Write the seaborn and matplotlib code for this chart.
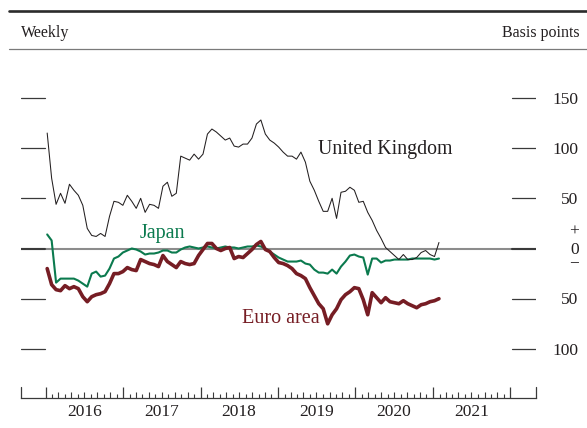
import pandas as pd
import matplotlib
matplotlib.use("Agg")
import matplotlib.pyplot as plt
import matplotlib.transforms as mtransforms
from matplotlib.lines import Line2D
import seaborn as sns

# Weekly observations, sampled every third week (basis points)
dates = pd.date_range("2016-01-08", "2021-01-29", freq="21D")

uk = [115, 70, 44, 55, 45, 64, 58, 53, 43, 20,
      13, 12, 15, 12, 32, 47, 46, 43, 53, 47,
      40, 50, 36, 44, 43, 40, 62, 66, 52, 55,
      92, 90, 88, 94, 89, 94, 114, 119, 116, 112,
      108, 110, 102, 101, 104, 104, 110, 124, 128, 114,
      108, 105, 101, 96, 92, 92, 89, 96, 86, 67,
      58, 47, 37, 37, 50, 30, 56, 57, 61, 58,
      46, 47, 36, 28, 18, 10, 1, -3, -7, -11,
      -6, -11, -11, -9, -4, -2, -6, -8, 6]

japan = [14, 8, -34, -30, -30, -30, -30, -32, -35, -38,
         -25, -23, -28, -27, -20, -10, -8, -4, -2, 0,
         -1, -3, -6, -5, -5, -4, -2, -2, -4, -4,
         -1, 1, 2, 1, 0, 1, 2, 1, 0, 1,
         2, 1, 1, 0, 1, 2, 2, 3, 2, 0,
         -3, -6, -9, -11, -13, -13, -13, -12, -15, -16,
         -21, -24, -24, -25, -21, -25, -18, -13, -7, -6,
         -8, -9, -26, -10, -10, -14, -12, -12, -11, -11,
         -11, -11, -10, -10, -10, -10, -10, -11, -10]

euro = [-20, -36, -41, -42, -37, -40, -38, -40, -48, -53,
        -48, -46, -45, -43, -35, -25, -25, -23, -19, -21,
        -22, -11, -13, -15, -16, -18, -7, -13, -16, -19,
        -13, -15, -16, -15, -7, -1, 5, 5, 0, -2,
        0, 1, -10, -8, -9, -5, -1, 4, 7, -1,
        -3, -9, -14, -15, -17, -20, -25, -27, -30, -39,
        -47, -55, -60, -75, -66, -60, -51, -46, -43, -39,
        -40, -51, -66, -44, -49, -54, -49, -53, -54, -55,
        -52, -55, -57, -59, -56, -55, -53, -52, -50]

series_names = ["Japan", "Euro area", "United Kingdom"]
colors = {"United Kingdom": "#231f20", "Japan": "#0b7a4e", "Euro area": "#761d24"}
widths = {"United Kingdom": 0.75, "Japan": 1.5, "Euro area": 2.6}

year_labels = ["2016", "2017", "2018", "2019", "2020", "2021"]
y_ticks = [150, 100, 50, 0, -50, -100]

df = pd.concat([
    pd.DataFrame({"date": dates, "bp": uk, "series": "United Kingdom"}),
    pd.DataFrame({"date": dates, "bp": japan, "series": "Japan"}),
    pd.DataFrame({"date": dates, "bp": euro, "series": "Euro area"}),
])

sns.set_theme(style="white")
plt.rcParams["font.family"] = ["Liberation Serif", "DejaVu Serif"]
ink = "#231f20"

W, H = 587, 428
fig = plt.figure(figsize=(W / 100, H / 100), dpi=100)
ax_l, ax_r, ax_t, ax_b = 20.6, 535.5, 60.0, 398.0
ax = fig.add_axes([ax_l / W, 1 - ax_b / H, (ax_r - ax_l) / W, (ax_b - ax_t) / H])
ax_w_px, ax_h_px = ax_r - ax_l, ax_b - ax_t

# zero reference line under the data
ax.axhline(0, color="#8c8c8c", lw=1.5, zorder=1)

sns.lineplot(data=df, x="date", y="bp", hue="series", size="series",
             hue_order=series_names, size_order=series_names,
             palette=colors, sizes=widths, legend=False, ax=ax, zorder=3)

ax.set_ylim((248.5 - ax_b) / 1.004, (248.5 - ax_t) / 1.004)
pad_days = pd.Timedelta(days=118.4)
ax.set_xlim(pd.Timestamp("2016-01-01") - pad_days, pd.Timestamp("2022-01-01") + pad_days)

for s in ["top", "left", "right"]:
    ax.spines[s].set_visible(False)
ax.spines["bottom"].set_color("#3a3a3a")
ax.spines["bottom"].set_linewidth(0.9)
ax.set_xlabel("")
ax.set_ylabel("")
ax.set_yticks([])
ax.grid(False)

# year labels centred in each year
ax.set_xticks([pd.Timestamp(f"{y}-07-01") for y in year_labels])
ax.set_xticklabels(year_labels, fontsize=12.5, color=ink)
ax.tick_params(axis="x", length=0, pad=4.5)

# tick marks: year boundaries, alternating month ticks, end ticks
xtrans = ax.get_xaxis_transform()
years = [pd.Timestamp(f"{y}-01-01") for y in range(2016, 2023)]
ax.vlines(years, 0, 11 / ax_h_px, transform=xtrans, color="#3a3a3a", lw=0.9, clip_on=False)
tall = [pd.Timestamp(f"{y}-{m:02d}-01") for y in range(2016, 2022) for m in range(3, 13, 2)]
short = [pd.Timestamp(f"{y}-{m:02d}-01") for y in range(2016, 2022) for m in range(2, 13, 2)]
ax.vlines(tall, 0, 6 / ax_h_px, transform=xtrans, color="#3a3a3a", lw=0.8, clip_on=False)
ax.vlines(short, 0, 4 / ax_h_px, transform=xtrans, color="#3a3a3a", lw=0.8, clip_on=False)
for xa in (0.0, 1.0):
    ax.add_line(Line2D([xa, xa], [0, 11 / ax_h_px], transform=ax.transAxes,
                       color="#3a3a3a", lw=0.9, clip_on=False))

# value dashes on both sides
left_end = (44.5 - ax_l) / ax_w_px
right_start = (511.7 - ax_l) / ax_w_px
for v in y_ticks:
    lw = 1.5 if v == 0 else 0.9
    ax.axhline(v, xmin=0.001, xmax=left_end, color="#3a3a3a", lw=lw, zorder=2)
    ax.axhline(v, xmin=right_start, xmax=1.0, color="#3a3a3a", lw=lw, zorder=2)

# right-hand value labels
ytrans = mtransforms.blended_transform_factory(fig.transFigure, ax.transData)
for v in y_ticks:
    if v == 0:
        continue
    ax.text(578.3 / W, v - 5.7, str(abs(v)), ha="right", va="baseline",
            transform=ytrans, fontsize=12.5, color=ink)
ax.text(574.5 / W, 13.0, "+", ha="center", va="baseline", transform=ytrans,
        fontsize=12.5, color=ink)
ax.text(574.5 / W, 6.2, "0\n\u2212", ha="center", va="top", multialignment="center",
        linespacing=0.706, transform=ytrans, fontsize=12.5, color=ink)

# series labels
ax.text(pd.Timestamp("2019-07-09"), 94.6, "United Kingdom", color=colors["United Kingdom"],
        fontsize=14.3, ha="left", va="baseline")
ax.text(pd.Timestamp("2017-03-21"), 10.2, "Japan", color=colors["Japan"],
        fontsize=14.5, ha="left", va="baseline")
ax.text(pd.Timestamp("2018-07-13"), -74.7, "Euro area", color=colors["Euro area"],
        fontsize=14.5, ha="left", va="baseline")

# header rules and captions
fig.add_artist(Line2D([9 / W, 1], [1 - 10.5 / H, 1 - 10.5 / H], transform=fig.transFigure,
                      color="#2b2b2b", lw=1.9))
fig.add_artist(Line2D([9 / W, 1], [1 - 49 / H, 1 - 49 / H], transform=fig.transFigure,
                      color="#7a7a7a", lw=0.9))
fig.text(21 / W, 1 - 37 / H, "Weekly", ha="left", va="baseline", fontsize=11.5, color=ink)
fig.text(580 / W, 1 - 37 / H, "Basis points", ha="right", va="baseline", fontsize=11.5,
         color=ink)

fig.savefig("out.png", dpi=100, facecolor="white")
